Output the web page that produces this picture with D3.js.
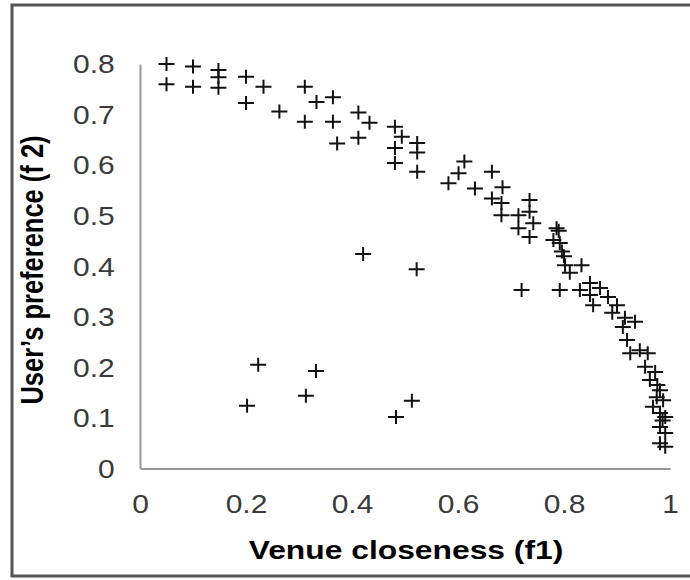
<!DOCTYPE html>
<html lang="en">
<head>
  <meta charset="UTF-8" />
  <title>Venue closeness vs user's preference</title>
  <script src="https://cdnjs.cloudflare.com/ajax/libs/d3/7.8.5/d3.min.js"></script>
  <style>
    body {
      margin: 0;
      background: #fff;
      font-family: "Liberation Sans", Arial, sans-serif;
    }
    svg {
      display: block;
    }
  </style>
</head>
<body>
  <svg id="chart" width="690" height="580"></svg>

  <script>
    // f1 (venue closeness) and f2 (user's preference)
    const f1 = [
      0.05, 0.05, 0.10, 0.10, 0.148, 0.148, 0.148, 0.20, 0.233, 0.20,
      0.263, 0.311, 0.333, 0.364, 0.311, 0.364, 0.372, 0.412, 0.433, 0.412,
      0.481, 0.494, 0.481, 0.481, 0.523, 0.523, 0.523, 0.582, 0.601, 0.612,
      0.664, 0.632, 0.664, 0.684, 0.682, 0.682, 0.714, 0.714, 0.735, 0.735,
      0.742, 0.735, 0.786, 0.78, 0.792, 0.796, 0.802, 0.833, 0.811, 0.79,
      0.80, 0.72, 0.792, 0.83, 0.849, 0.849, 0.868, 0.855, 0.883, 0.90,
      0.891, 0.915, 0.934, 0.911, 0.919, 0.925, 0.943, 0.958, 0.953, 0.972,
      0.962, 0.981, 0.975, 0.987, 0.968, 0.981, 0.991, 0.981, 0.991, 0.981,
      0.991, 0.986, 0.976,
      0.421, 0.522, 0.223, 0.332, 0.313, 0.202, 0.513, 0.483
    ];
    const f2 = [
      0.80, 0.76, 0.795, 0.755, 0.788, 0.774, 0.753, 0.775, 0.755, 0.723,
      0.706, 0.755, 0.725, 0.734, 0.686, 0.686, 0.643, 0.704, 0.684, 0.654,
      0.676, 0.656, 0.634, 0.604, 0.644, 0.625, 0.587, 0.564, 0.584, 0.607,
      0.587, 0.554, 0.534, 0.556, 0.525, 0.501, 0.501, 0.475, 0.531, 0.508,
      0.485, 0.458, 0.475, 0.452, 0.446, 0.429, 0.402, 0.402, 0.387, 0.47,
      0.42, 0.353, 0.353, 0.353, 0.367, 0.343, 0.357, 0.323, 0.339, 0.323,
      0.308, 0.298, 0.29, 0.28, 0.254, 0.228, 0.234, 0.228, 0.201, 0.191,
      0.175, 0.155, 0.141, 0.135, 0.122, 0.11, 0.102, 0.082, 0.07, 0.05,
      0.043, 0.095, 0.165,
      0.424, 0.394, 0.205, 0.193, 0.144, 0.124, 0.134, 0.102
    ];

    const xTicks = [0, 0.2, 0.4, 0.6, 0.8, 1];
    const yTicks = [0, 0.1, 0.2, 0.3, 0.4, 0.5, 0.6, 0.7, 0.8];

    // the source picture is a little stretched sideways
    const stretch = 1.2;

    const svg = d3.select("#chart");

    // outer frame (right side runs off the picture)
    svg.append("rect")
      .attr("x", 12).attr("y", 5)
      .attr("width", 700).attr("height", 571)
      .attr("fill", "none")
      .attr("stroke", "#555")
      .attr("stroke-width", 3);

    const x = d3.scaleLinear().domain([0, 1]).range([140, 670]);
    const y = d3.scaleLinear().domain([0, 0.8]).range([468.5, 64]);

    // x axis
    const xAxis = svg.append("g")
      .attr("transform", `translate(0,${y(0)})`)
      .call(d3.axisBottom(x).tickValues(xTicks).tickSize(0).tickPadding(27)
        .tickFormat(d3.format("~g")));
    // y axis
    const yAxis = svg.append("g")
      .attr("transform", `translate(${x(0)},0)`)
      .call(d3.axisLeft(y).tickValues(yTicks).tickSize(0).tickPadding(21)
        .tickFormat(d3.format("~g")));

    [xAxis, yAxis].forEach(g => {
      g.select(".domain").attr("stroke", "#999").attr("stroke-width", 2);
      g.selectAll("text")
        .attr("fill", "#3a3a3a")
        .attr("transform", `scale(${stretch},1)`)
        .style("font-family", "'Liberation Sans', Arial, sans-serif")
        .style("font-size", "25px");
    });
    xAxis.selectAll("text").attr("dy", "0.71em");
    yAxis.selectAll("text").attr("dy", "0.35em");

    // axis titles
    svg.append("text")
      .attr("transform", `translate(406,550) scale(${stretch},1)`)
      .attr("text-anchor", "middle")
      .attr("dominant-baseline", "central")
      .attr("font-size", "26.5px")
      .attr("font-weight", "bold")
      .text("Venue closeness (f1)");

    svg.append("text")
      .attr("transform", `translate(33,270) scale(${stretch},1) rotate(-90)`)
      .attr("text-anchor", "middle")
      .attr("dominant-baseline", "central")
      .attr("font-size", "25.5px")
      .attr("font-weight", "bold")
      .text("User\u2019s preference (f 2)");

    // plus markers
    const pts = f1.map((v, i) => ({ f1: v, f2: f2[i] }));
    const hw = 8, hh = 7;
    svg.append("g")
      .selectAll("path")
      .data(pts)
      .enter().append("path")
      .attr("d", d => `M${x(d.f1) - hw},${y(d.f2)}H${x(d.f1) + hw}M${x(d.f1)},${y(d.f2) - hh}V${y(d.f2) + hh}`)
      .attr("stroke", "#111")
      .attr("stroke-width", 2)
      .attr("fill", "none");
  </script>
</body>
</html>
